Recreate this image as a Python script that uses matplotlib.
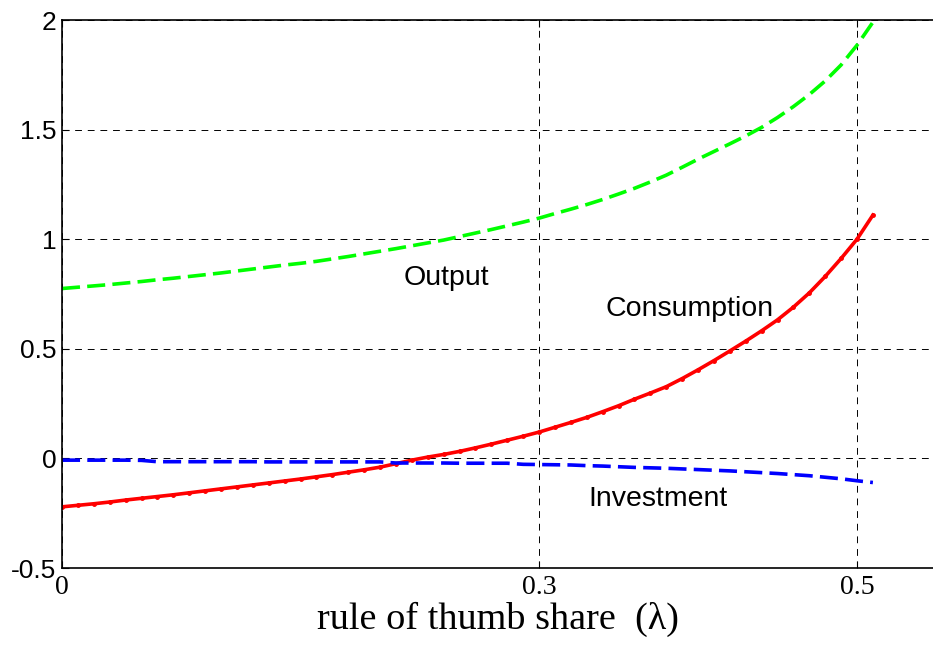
import matplotlib
matplotlib.use("Agg")
import matplotlib.pyplot as plt
import numpy as np

plt.rcParams['axes.unicode_minus'] = False

lam = [round(0.01 * i, 2) for i in range(52)]

output = [0.775, 0.781, 0.787, 0.793, 0.800, 0.807, 0.815, 0.822, 0.830, 0.838,
          0.846, 0.855, 0.864, 0.873, 0.882, 0.890, 0.899, 0.910, 0.921, 0.933,
          0.945, 0.957, 0.970, 0.983, 0.996, 1.012, 1.028, 1.044, 1.061, 1.078,
          1.096, 1.117, 1.137, 1.158, 1.181, 1.206, 1.232, 1.261, 1.292, 1.328,
          1.365, 1.400, 1.435, 1.471, 1.510, 1.555, 1.605, 1.660, 1.722, 1.795,
          1.885, 1.990]

consumption = [-0.221, -0.214, -0.207, -0.199, -0.190, -0.182, -0.174, -0.166, -0.157, -0.148,
               -0.139, -0.130, -0.121, -0.112, -0.103, -0.094, -0.084, -0.074, -0.063, -0.052,
               -0.040, -0.024, -0.008, 0.006, 0.018, 0.032, 0.048, 0.065, 0.083, 0.101,
               0.120, 0.142, 0.164, 0.187, 0.213, 0.240, 0.270, 0.298, 0.327, 0.364,
               0.404, 0.446, 0.490, 0.535, 0.582, 0.632, 0.690, 0.755, 0.830, 0.912,
               1.000, 1.110]

investment = [-0.008, -0.008, -0.008, -0.008, -0.008, -0.009, -0.015, -0.015, -0.015, -0.015,
              -0.015, -0.015, -0.015, -0.016, -0.016, -0.016, -0.016, -0.016, -0.016, -0.016,
              -0.016, -0.021, -0.021, -0.021, -0.021, -0.022, -0.022, -0.022, -0.022, -0.027,
              -0.028, -0.029, -0.030, -0.033, -0.035, -0.038, -0.041, -0.043, -0.045, -0.048,
              -0.051, -0.054, -0.057, -0.061, -0.065, -0.069, -0.074, -0.079, -0.086, -0.093,
              -0.102, -0.110]

xticks = [0, 0.3, 0.5]
xticklabels = ["0", "0.3", "0.5"]
yticks = [-0.5, 0, 0.5, 1, 1.5, 2]
yticklabels = ["-0.5", "0", "0.5", "1", "1.5", "2"]

fig = plt.figure(figsize=(9.33, 6.47), dpi=100)
ax = fig.add_axes([62/933, 79/647, 1 - 62/933, (568-20)/647])

ax.set_xlim(0, (933-62)/1590)
ax.set_ylim(-0.5, 2)

ax.grid(True, color='black', linestyle=(0, (7, 6)), linewidth=0.7)
ax.set_axisbelow(True)

ax.plot(lam, output, color=(0, 1, 0), linewidth=2.6, linestyle=(0, (5, 2)))
ax.plot(lam, consumption, color=(1, 0, 0), linewidth=2.6, marker='.', markersize=5)
ax.plot(lam, investment, color=(0, 0, 1), linewidth=2.6, linestyle=(0, (5, 2)))

ax.set_xticks(xticks)
ax.set_xticklabels(xticklabels, family='Liberation Serif', fontsize=20)
ax.set_yticks(yticks)
ax.set_yticklabels(yticklabels, family='Liberation Sans', fontsize=19)
ax.tick_params(direction='in', length=5, width=0.8, top=True, right=False, pad=5)
ax.tick_params(axis='y', pad=4)

for s in ['left', 'top', 'bottom']:
    ax.spines[s].set_linewidth(1.2)
ax.spines['right'].set_visible(False)

ax.set_xlabel("rule of thumb share  (λ)", family='Liberation Serif', fontsize=27.5, labelpad=1)

ax.text(0.242, 0.825, "Output", family='Liberation Sans', fontsize=20.5, ha='center', va='center')
ax.text(0.395, 0.68, "Consumption", family='Liberation Sans', fontsize=20.5, ha='center', va='center')
ax.text(0.375, -0.185, "Investment", family='Liberation Sans', fontsize=20.5, ha='center', va='center')

fig.savefig("out.png", dpi=100)
